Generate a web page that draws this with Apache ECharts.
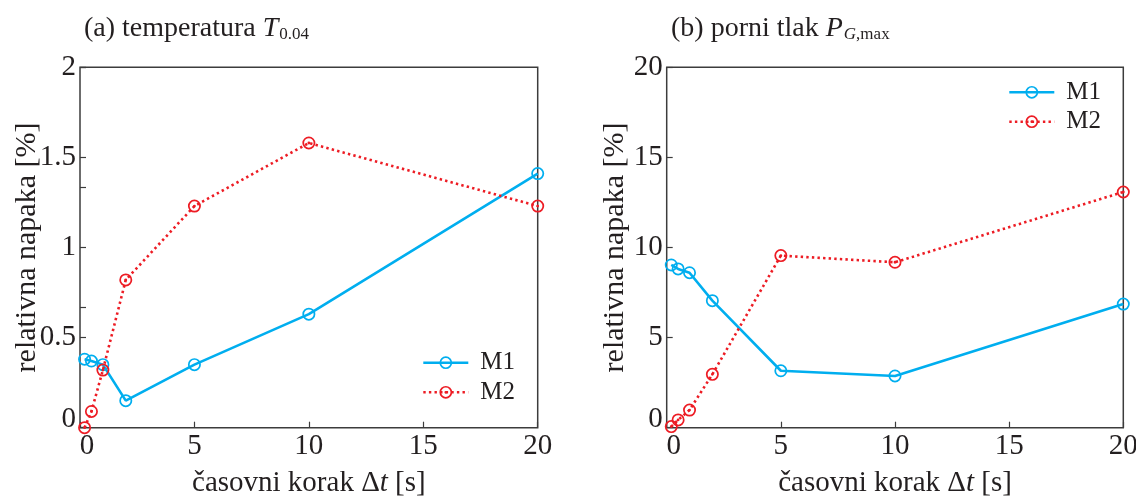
<!DOCTYPE html>
<html>
<head>
<meta charset="utf-8">
<script src="https://cdn.jsdelivr.net/npm/echarts@6/dist/echarts.min.js"></script>
<style>
html,body{margin:0;padding:0;background:#fff;}
#chart{width:1136px;height:497px;}
</style>
</head>
<body>
<div id="chart"></div>
<script>
// ---- data ----
var timeSteps = [0.2, 0.5, 1, 2, 5, 10, 20];
var tempM1 = [0.38, 0.37, 0.35, 0.15, 0.35, 0.63, 1.41];
var tempM2 = [0.0, 0.09, 0.32, 0.82, 1.23, 1.58, 1.23];
var presM1 = [9.03, 8.81, 8.60, 7.05, 3.16, 2.87, 6.86];
var presM2 = [0.06, 0.43, 0.98, 2.96, 9.55, 9.18, 13.08];
var seriesNames = ['M1', 'M2'];
var xTicks = [0, 5, 10, 15, 20];
var tempTicks = [0, 0.5, 1, 1.5, 2];
var presTicks = [0, 5, 10, 15, 20];

function pairs(xs, ys) { return xs.map(function (x, i) { return [x, ys[i]]; }); }

var FONT = "'Liberation Serif','Times New Roman',serif";
var TXT = '#231f20';
var AX = '#3c3c3c';
var BLUE = '#00aeef';
var RED = '#ed1c24';
var ring = 'path://M0,12A12,12,0,1,1,24,12A12,12,0,1,1,0,12Z M3.2,12A8.8,8.8,0,1,0,20.8,12A8.8,8.8,0,1,0,3.2,12Z';
var ringDot = 'path://M0,12A12,12,0,1,1,24,12A12,12,0,1,1,0,12Z M3.2,12A8.8,8.8,0,1,0,20.8,12A8.8,8.8,0,1,0,3.2,12Z M9.4,12A2.6,2.6,0,1,1,14.6,12A2.6,2.6,0,1,1,9.4,12Z';

var grids = [
  { left: 80, right: 598.3, top: 67.3, bottom: 69.3 },
  { left: 666.7, right: 12.7, top: 67.3, bottom: 69.3 }
];

function xAxisDef(gi) {
  return {
    type: 'value', gridIndex: gi, min: xTicks[0], max: xTicks[xTicks.length - 1], interval: 5,
    name: '{n|časovni korak }{d|Δ}{i|t}{n| [s]}', nameLocation: 'middle', nameGap: 41,
    nameMoveOverlap: false,
    nameTextStyle: { rich: {
      n: { fontFamily: FONT, fontSize: 29, color: TXT },
      d: { fontFamily: FONT, fontSize: 29, color: TXT },
      i: { fontFamily: FONT, fontSize: 29, color: TXT, fontStyle: 'italic' }
    } },
    axisLine: { show: false },
    axisTick: { show: true, inside: true, length: 6, lineStyle: { color: AX, width: 1.2 } },
    splitLine: { show: false },
    axisLabel: {
      margin: 4, fontFamily: FONT, fontSize: 29, color: TXT,
      formatter: function (v) { return v === 0 ? '{z|0}' : String(v); },
      rich: { z: { fontFamily: FONT, fontSize: 29, color: TXT, padding: [0, 0, 0, 14] } }
    }
  };
}
function yAxisDef(gi, ticks, gap) {
  var step = ticks[1] - ticks[0];
  return {
    type: 'value', gridIndex: gi, min: ticks[0], max: ticks[ticks.length - 1], interval: step,
    name: 'relativna napaka [%]', nameLocation: 'middle', nameGap: gap, nameRotate: 90,
    nameMoveOverlap: false,
    nameTextStyle: { fontFamily: FONT, fontSize: 30, color: TXT },
    axisLine: { show: false },
    axisTick: { show: true, inside: true, length: 6, lineStyle: { color: AX, width: 1.2 } },
    splitLine: { show: false },
    axisLabel: {
      margin: 4, fontFamily: FONT, fontSize: 29, color: TXT,
      formatter: function (v) { return v === 0 ? '{z|0}' : String(v); },
      rich: { z: { fontFamily: FONT, fontSize: 29, color: TXT, padding: [0, 0, 16, 0] } }
    }
  };
}

function lineSeries(name, xi, yi, data, dotted) {
  return {
    type: 'line', name: name, xAxisIndex: xi, yAxisIndex: yi, data: data,
    symbol: dotted ? ringDot : ring, symbolSize: 13, clip: false,
    itemStyle: { color: dotted ? RED : BLUE, borderWidth: 0 },
    lineStyle: { color: dotted ? RED : BLUE, width: 2.6, type: dotted ? [2.4, 3.2] : 'solid', cap: 'butt' },
    emphasis: { disabled: true },
    animation: false
  };
}

var yA = yAxisDef(0, tempTicks, 38);
var yB = yAxisDef(1, presTicks, 36.7);
// extra inner ticks visible on the left axis of plot (a)
var yExtra = {
  type: 'value', gridIndex: 0, min: 0, max: 2, interval: 2 / 3, position: 'left',
  axisLine: { show: false }, axisLabel: { show: false }, splitLine: { show: false },
  axisTick: { show: true, inside: true, length: 6, lineStyle: { color: AX, width: 1.2 } }
};

var legendText = { fontFamily: FONT, fontSize: 25, color: TXT, lineHeight: 28, padding: [0, 0, 0, 7] };

var option = {
  backgroundColor: '#ffffff',
  animation: false,
  title: [
    { text: '{n|(a) temperatura }{i|T}{s|0.04}', left: 79, top: 10,
      textStyle: { fontWeight: 'normal', rich: {
        n: { fontFamily: FONT, fontSize: 28, color: TXT, fontWeight: 'normal' },
        i: { fontFamily: FONT, fontSize: 28, color: TXT, fontStyle: 'italic', fontWeight: 'normal' },
        s: { fontFamily: FONT, fontSize: 17, color: TXT, fontWeight: 'normal', verticalAlign: 'bottom', padding: [8, 0, 0, 1] }
      } } },
    { text: '{n|(b) porni tlak }{i|P}{si|G}{s|,max}', left: 666, top: 10,
      textStyle: { fontWeight: 'normal', rich: {
        n: { fontFamily: FONT, fontSize: 28, color: TXT, fontWeight: 'normal' },
        i: { fontFamily: FONT, fontSize: 28, color: TXT, fontStyle: 'italic', fontWeight: 'normal' },
        si: { fontFamily: FONT, fontSize: 17, color: TXT, fontStyle: 'italic', fontWeight: 'normal', verticalAlign: 'bottom', padding: [8, 0, 0, 1] },
        s: { fontFamily: FONT, fontSize: 17, color: TXT, fontWeight: 'normal', verticalAlign: 'bottom', padding: [8, 0, 0, 0] }
      } } }
  ],
  legend: [
    { data: seriesNames, orient: 'vertical', left: 422, top: 348.7, padding: 0, itemWidth: 45, itemHeight: 16, itemGap: 1.6,
      lineStyle: { width: 2.6 }, textStyle: legendText, selectedMode: false },
    { data: seriesNames, orient: 'vertical', left: 1008, top: 78.3, padding: 0, itemWidth: 45, itemHeight: 16, itemGap: 1.4,
      lineStyle: { width: 2.6 }, textStyle: legendText, selectedMode: false }
  ],
  grid: grids.map(function (g) {
    return { left: g.left, right: g.right, top: g.top, bottom: g.bottom, show: true,
      containLabel: false, outerBoundsMode: 'none',
      borderColor: AX, borderWidth: 1.5, backgroundColor: 'transparent' };
  }),
  xAxis: [xAxisDef(0), xAxisDef(1)],
  yAxis: [yA, yB, yExtra],
  series: [
    lineSeries(seriesNames[0], 0, 0, pairs(timeSteps, tempM1), false),
    lineSeries(seriesNames[1], 0, 0, pairs(timeSteps, tempM2), true),
    lineSeries(seriesNames[0], 1, 1, pairs(timeSteps, presM1), false),
    lineSeries(seriesNames[1], 1, 1, pairs(timeSteps, presM2), true)
  ]
};

var chart = echarts.init(document.getElementById('chart'), null, { renderer: 'canvas' });
chart.setOption(option);
</script>
</body>
</html>
